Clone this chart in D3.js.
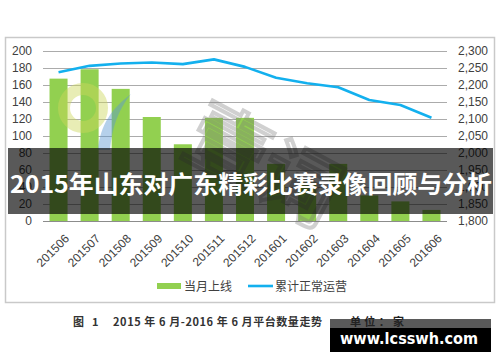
<!DOCTYPE html>
<html><head><meta charset="utf-8">
<script src="https://cdn.jsdelivr.net/npm/d3@7"></script>
<style>
html,body{margin:0;padding:0;background:#fff;}
svg{display:block;}
</style></head>
<body>
<svg id="c" width="500" height="362"></svg>
<script>
const months = ["201506","201507","201508","201509","201510","201511","201512","201601","201602","201603","201604","201605","201606"];
const monthlyNew = [167,178,155,122,90,121,121,67,45,67,30,23,13];
const cumulative = [2236,2255,2262,2265,2260,2274,2252,2220,2204,2192,2155,2140,2103];
const leftTicks = [0,20,40,60,80,100,120,140,160,180,200];
const rightTicks = [1800,1850,1900,1950,2000,2050,2100,2150,2200,2250,2300];
const seriesNames = ["当月上线","累计正常运营"];
const bannerTitle = "2015年山东对广东精彩比赛录像回顾与分析";
const caption = ["图","1","2015 年 6 月-2016 年 6 月平台数量走势","单位：家"];
const badge = "www.lcsswh.com";

const svg = d3.select("#c");
const font = "'Liberation Sans', Arial, sans-serif";
const cjk = "'Noto Sans CJK SC', 'Noto Sans', sans-serif";

const x = d3.scaleBand().domain(months).range([43,447]).paddingInner(0.42).paddingOuter(0.21);
const yL = d3.scaleLinear().domain([0,200]).range([221,50.5]);
const yR = d3.scaleLinear().domain([1800,2300]).range([221,50.5]);

// outer frame
svg.append("rect").attr("x",5.5).attr("y",37.5).attr("width",489).attr("height",265)
  .attr("fill","#fff").attr("stroke","#c9c9c9").attr("stroke-width",1.5);

// gridlines
svg.append("g").selectAll("line").data(leftTicks.slice(1)).join("line")
  .attr("x1",43).attr("x2",447).attr("y1",d=>Math.round(yL(d))+0.5).attr("y2",d=>Math.round(yL(d))+0.5)
  .attr("stroke","#ababab").attr("stroke-width",1.2);

// left axis
const gl = svg.append("g").attr("transform","translate(43,0)")
  .call(d3.axisLeft(yL).tickValues(leftTicks).tickSize(0).tickPadding(11));
gl.select(".domain").remove();
gl.selectAll("text").attr("font-family",font).attr("font-size",12).attr("fill","#404040");

// right axis
const gr = svg.append("g").attr("transform","translate(447,0)")
  .call(d3.axisRight(yR).tickValues(rightTicks).tickSize(0).tickPadding(11).tickFormat(d3.format(",")));
gr.select(".domain").remove();
gr.selectAll("text").attr("font-family",font).attr("font-size",12).attr("fill","#404040");

// bars
svg.append("g").selectAll("rect").data(months).join("rect")
  .attr("x",d=>x(d)).attr("width",x.bandwidth())
  .attr("y",(d,i)=>yL(monthlyNew[i])).attr("height",(d,i)=>yL(0)-yL(monthlyNew[i]))
  .attr("fill","#92d050");

// x axis line
svg.append("line").attr("x1",43).attr("x2",447).attr("y1",221.5).attr("y2",221.5)
  .attr("stroke","#8c8c8c").attr("stroke-width",1.2);

// watermark (logo)
const wm = svg.append("g").attr("pointer-events","none");
wm.append("circle").attr("cx",83).attr("cy",108).attr("r",19)
  .attr("fill","none").attr("stroke","rgba(205,215,90,0.45)").attr("stroke-width",12);
wm.append("path").attr("d","M131,94 C112,108 100,125 98,150 L110,150 C112,128 118,110 131,94 Z")
  .attr("fill","rgba(90,150,210,0.45)");
wm.append("g").attr("transform","translate(250,190) rotate(28)")
  .append("text").attr("text-anchor","middle").attr("font-family",cjk).attr("font-size",80)
  .attr("fill","none").attr("stroke","rgba(120,120,120,0.35)").attr("stroke-width",4).text("壹词");

// line
const line = d3.line().x((d,i)=>x(months[i])+x.bandwidth()/2).y(d=>yR(d)).curve(d3.curveLinear);
svg.append("path").datum(cumulative).attr("d",line)
  .attr("fill","none").attr("stroke","#13b0ee").attr("stroke-width",2.6).attr("stroke-linejoin","round");

// x labels
svg.append("g").selectAll("text").data(months).join("text")
  .attr("transform",d=>`translate(${x(d)+x.bandwidth()/2+5},233) rotate(-45)`)
  .attr("text-anchor","end").attr("dy","0.75em")
  .attr("font-family",font).attr("font-size",12).attr("fill","#404040").text(d=>d);

// legend
svg.append("rect").attr("x",157).attr("y",283).attr("width",24).attr("height",6).attr("fill","#92d050");
svg.append("text").attr("x",184).attr("y",290.5).attr("font-family",cjk).attr("font-size",12)
  .attr("fill","#404040").text(seriesNames[0]);
svg.append("line").attr("x1",248).attr("x2",273).attr("y1",286).attr("y2",286)
  .attr("stroke","#13b0ee").attr("stroke-width",2.6);
svg.append("text").attr("x",275).attr("y",290.5).attr("font-family",cjk).attr("font-size",12)
  .attr("fill","#404040").text(seriesNames[1]);

// banner
svg.append("rect").attr("x",8).attr("y",148).attr("width",485).attr("height",66).attr("fill","rgba(0,0,0,0.65)");
svg.append("text").attr("x",251).attr("y",193).attr("text-anchor","middle")
  .attr("font-family",cjk).attr("font-weight","bold").attr("font-size",24).attr("fill","#fff")
  .attr("textLength",482).attr("lengthAdjust","spacingAndGlyphs").text(bannerTitle);

// badge background
svg.append("rect").attr("x",330).attr("y",319).attr("width",161).attr("height",9).attr("fill","#5a5a5a");
svg.append("rect").attr("x",330).attr("y",328).attr("width",161).attr("height",24).attr("fill","#000");

// caption
const capY = 326;
const cap = svg.append("g").attr("font-family",cjk).attr("font-weight","bold").attr("font-size",11).attr("fill","#333");
cap.append("text").attr("x",73).attr("y",capY).text(caption[0]);
cap.append("text").attr("x",92).attr("y",capY).text(caption[1]);
cap.append("text").attr("x",113).attr("y",capY).attr("textLength",209).attr("lengthAdjust","spacing").text(caption[2]);
cap.append("text").attr("x",350).attr("y",capY).attr("textLength",54).attr("lengthAdjust","spacing").attr("fill","#222").text(caption[3]);

svg.append("text").attr("x",409).attr("y",344).attr("text-anchor","middle")
  .attr("font-family","'DejaVu Sans', sans-serif").attr("font-weight","bold").attr("font-size",16).attr("fill","#fff")
  .attr("textLength",138).attr("lengthAdjust","spacingAndGlyphs").text(badge);
</script>
</body></html>
